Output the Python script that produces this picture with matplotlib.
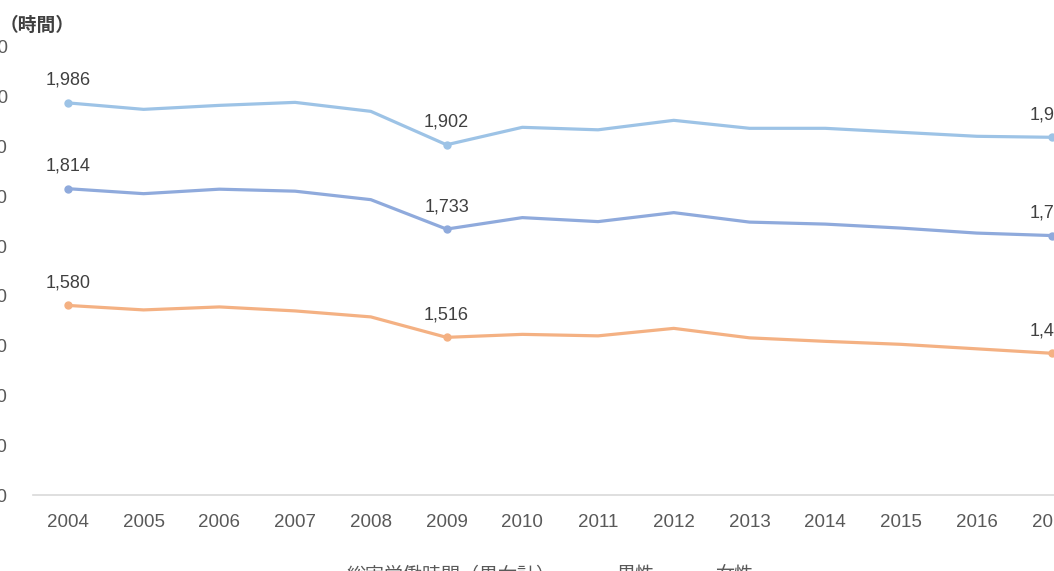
import matplotlib
matplotlib.use("Agg")
import matplotlib.pyplot as plt

years = list(range(2004, 2018))
total = [1814, 1804, 1813, 1809, 1792, 1733, 1756, 1748, 1766, 1747, 1743, 1735, 1725, 1720]
male = [1986, 1973, 1981, 1987, 1969, 1902, 1937, 1932, 1951, 1935, 1935, 1927, 1919, 1917]
female = [1580, 1571, 1577, 1569, 1557, 1516, 1522, 1519, 1534, 1515, 1508, 1502, 1493, 1484]
labels = ["総実労働時間（男女計）", "男性", "女性"]
label_years = [2004, 2009, 2017]
y_ticks = list(range(1200, 2101, 100))

colors = ["#8FAADC", "#9DC3E6", "#F4B183"]
num_font = ["Liberation Sans", "Noto Sans CJK JP"]
jp_font = ["Noto Sans CJK JP", "DejaVu Sans"]

fig = plt.figure(figsize=(10.54, 5.71), dpi=100)
ax = fig.add_axes([33 / 1054, 76 / 571, 1 - 33 / 1054, 449 / 571])

for series, color, name in zip([total, male, female], colors, labels):
    ax.plot(years, series, color=color, linewidth=2.3, solid_capstyle="round",
            label=name)
    for yr in label_years:
        v = series[years.index(yr)]
        ax.plot(yr, v, "o", color=color, markersize=5)
        ax.annotate(f"{v:,}", (yr, v), xytext=(0, 10), textcoords="offset points",
                    ha="center", va="bottom", fontsize=13, color="#404040",
                    family=num_font)

ax.set_xlim(2003.54, 2017.02)
ax.set_ylim(1200, 2100)
ax.set_xticks(years)
ax.set_xticklabels([str(y) for y in years], family=num_font, fontsize=13.5,
                   color="#595959")
ax.set_yticks(y_ticks)
ax.set_yticklabels([f"{t:,}" for t in y_ticks], family=num_font, fontsize=13.5,
                   color="#595959")
ax.tick_params(axis="both", length=0)
ax.tick_params(axis="y", pad=18)
ax.tick_params(axis="x", pad=14)

for side in ["top", "right", "left"]:
    ax.spines[side].set_visible(False)
ax.spines["bottom"].set_color("#D9D9D9")
ax.spines["bottom"].set_linewidth(1.2)

fig.text(0.0, 1 - 25 / 571, "（時間）", ha="left", va="center", fontsize=13.5,
         color="#404040", fontweight="bold", family=jp_font)

leg = fig.legend(loc="center", bbox_to_anchor=(531 / 1054, -4 / 571), ncol=3,
                 frameon=False, handlelength=1.5, handletextpad=0.5,
                 columnspacing=1.2, prop={"family": jp_font, "size": 13.7})
for t in leg.get_texts():
    t.set_color("#595959")

fig.savefig("out.png", dpi=100)
